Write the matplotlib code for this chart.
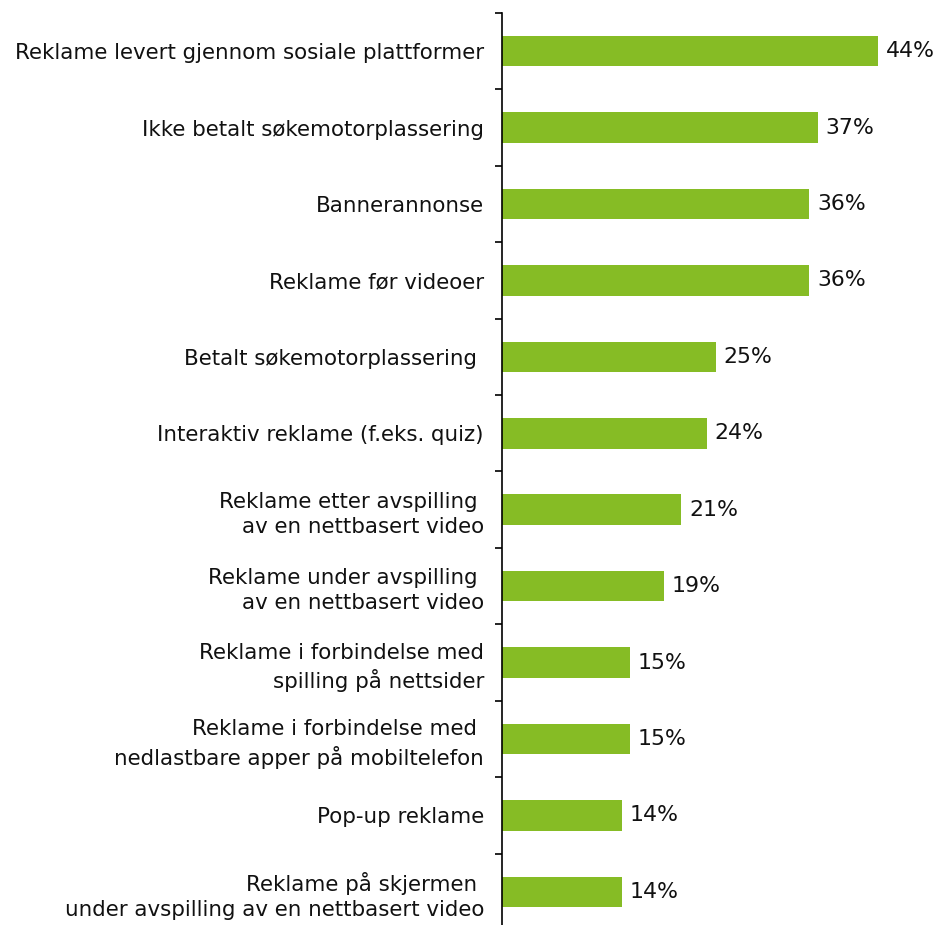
import matplotlib.pyplot as plt
import numpy as np

# categories, top to bottom
categories = [
    "Reklame levert gjennom sosiale plattformer",
    "Ikke betalt søkemotorplassering",
    "Bannerannonse",
    "Reklame før videoer",
    "Betalt søkemotorplassering ",
    "Interaktiv reklame (f.eks. quiz)",
    "Reklame etter avspilling \nav en nettbasert video",
    "Reklame under avspilling \nav en nettbasert video",
    "Reklame i forbindelse med\nspilling på nettsider",
    "Reklame i forbindelse med \nnedlastbare apper på mobiltelefon",
    "Pop-up reklame",
    "Reklame på skjermen \nunder avspilling av en nettbasert video",
]
shares = [44, 37, 36, 36, 25, 24, 21, 19, 15, 15, 14, 14]

green = "#86BC25"
fs = 15.4

fig = plt.figure(figsize=(9.39, 9.25), dpi=100)
ax = fig.add_axes([502 / 939, -0.0054, 427 / 939, 0.9914])

y = np.arange(len(categories))
ax.barh(y, shares, height=0.4, color=green)
ax.set_ylim(len(categories) - 0.5, -0.5)
ax.set_xlim(0, 50)

for yi, v in zip(y, shares):
    ax.text(v + 0.9, yi, f"{v}%", va="center", ha="left", fontsize=15.8, color="#111111")

# labels sit between the boundary ticks
ax.set_yticks(y, categories, fontsize=fs, color="#111111", linespacing=1.32)
ax.set_yticks(np.arange(len(categories) + 1) - 0.5, minor=True)
ax.tick_params(axis="y", which="major", length=0, pad=13)
ax.tick_params(axis="y", which="minor", length=5, width=1.2, color="#000000")
ax.set_xticks([])

for s in ["top", "right", "bottom"]:
    ax.spines[s].set_visible(False)
ax.spines["left"].set_linewidth(1.2)

fig.savefig("out.png", dpi=100)
